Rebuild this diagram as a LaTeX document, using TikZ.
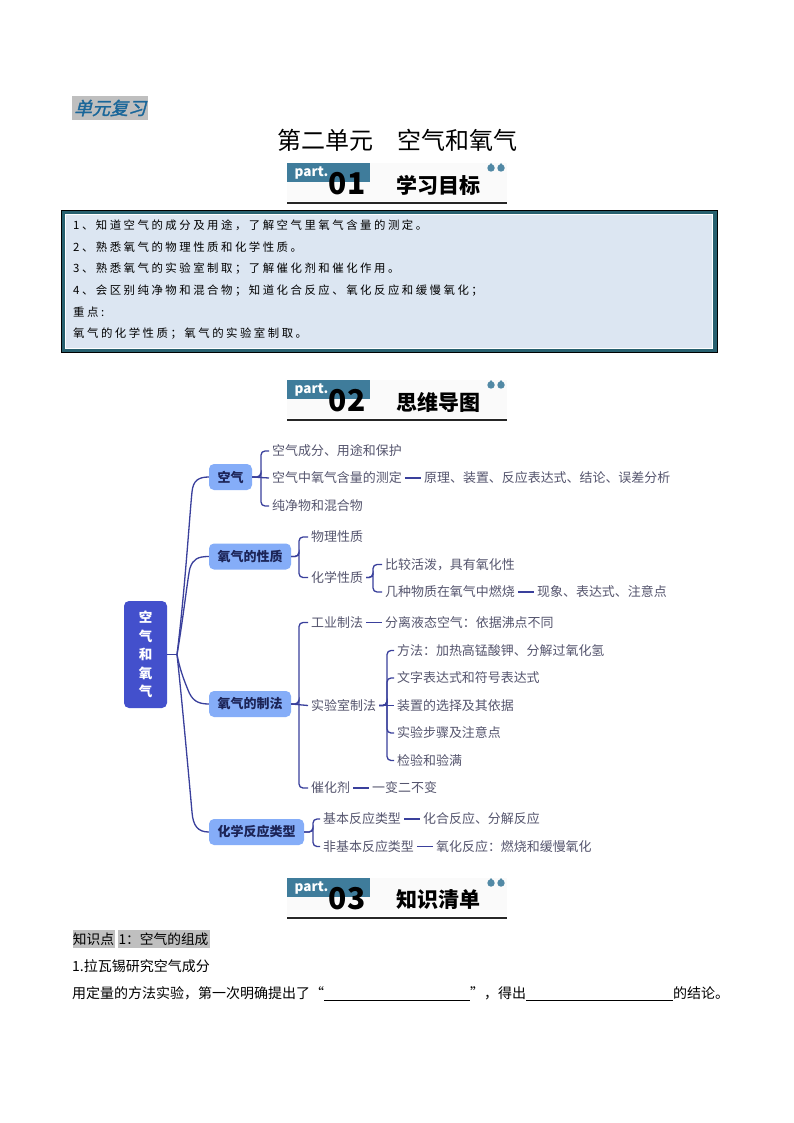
\documentclass[tikz,border=0pt]{standalone}
\usepackage{fontspec}
\setmainfont{Noto Sans CJK SC}
\newfontfamily\slantfont[FakeSlant=0.25,FakeBold=1.5]{Noto Sans CJK SC}
\newfontfamily\goalfont[LetterSpace=22]{Noto Sans CJK SC}
\newcommand{\fs}[1]{\fontsize{#1}{#1}\selectfont}
\definecolor{linkblue}{HTML}{3A409C}
\definecolor{rootblue}{HTML}{4350CC}
\definecolor{topicblue}{HTML}{85ADF8}
\definecolor{topicink}{HTML}{1C2457}
\definecolor{leafink}{HTML}{55556E}
\definecolor{bannerblue}{HTML}{3F7C9B}
\definecolor{goalframe}{HTML}{27606F}
\definecolor{goalfill}{HTML}{DCE6F2}
\definecolor{markgrey}{HTML}{BFBFBF}
\definecolor{reviewblue}{HTML}{1A6699}
\tikzset{
  topic/.style={draw=none,fill=topicblue,rounded corners=5pt,text=topicink,minimum height=26pt,font=\bfseries\fs{13}},
  leaf/.style={anchor=west,inner sep=3pt,text=leafink,font=\fs{12.95}},
  conn/.style={draw=linkblue,line width=1.3pt},
  bracket/.style={conn,rounded corners=4pt},
  goal/.style={anchor=west,inner sep=0pt,font=\goalfont\fs{11.4}},
  body/.style={anchor=west,inner sep=0pt,font=\fs{14}}
}
% one section banner: name, top edge, number, title
\newcommand{\partbanner}[4]{
\fill[black!2](287,#2) rectangle (507,#2+38);
\fill[bannerblue](287,#2) rectangle (370,#2+19);
\node[inner sep=0pt,text=white,font=\bfseries\fs{13.5}](#1p) at (311.5,#2+10) {part.};
\node[inner sep=0pt,font=\bfseries\fs{30}](#1n) at (347,#2+21) {#3};
\node[inner sep=0pt,font=\bfseries\fs{21}](#1t) at (438,#2+22) {#4};
\foreach \dropx in {491,501}{
  \fill[bannerblue!90](\dropx-3,#2+4)--(\dropx,#2)--(\dropx+3,#2+4)--cycle;
  \fill[bannerblue!90](\dropx,#2+5) circle (3.7);
}
\draw[line width=1.5pt,black!85](287,#2+40)--(507,#2+40);
}
\begin{document}
\begin{tikzpicture}[x=1pt,y=-1pt]
\useasboundingbox (0,0) rectangle (794,1123);
\fill[white](0,0) rectangle (794,1123);
% heading
\node[fill=markgrey,inner sep=0pt,minimum width=76pt,minimum height=24pt,text=reviewblue,font=\slantfont\fs{18}](review) at (110,108) {单元复习};
\node[inner sep=0pt,font=\fs{24}](title) at (397,140) {第二单元\hspace{24pt}空气和氧气};
\partbanner{a}{163}{01}{学习目标}
% goals box
\draw[black,line width=0.8pt,fill=goalframe](61.5,210.5) rectangle (717.5,352);
\fill[white](65,214.5) rectangle (712.5,348.5);
\fill[goalfill](66,215.5) rectangle (711.5,347.5);
\node[goal](g1) at (73,225) {1、知道空气的成分及用途，了解空气里氧气含量的测定。};
\node[goal](g2) at (73,247) {2、熟悉氧气的物理性质和化学性质。};
\node[goal](g3) at (73,269) {3、熟悉氧气的实验室制取；了解催化剂和催化作用。};
\node[goal](g4) at (73,291) {4、会区别纯净物和混合物；知道化合反应、氧化反应和缓慢氧化；};
\node[goal](g5) at (73,312) {重点:};
\node[goal](g6) at (73,334) {氧气的化学性质；氧气的实验室制取。};
\partbanner{b}{380}{02}{思维导图}
% mind map
\node[fill=rootblue,rounded corners=5pt,text=white,minimum width=43pt,minimum height=107pt,inner sep=0pt,align=center,font=\bfseries\fontsize{13.5}{18.5}\selectfont](root) at (145.5,654.5) {空\\气\\和\\氧\\气};
\node[topic,minimum width=43pt](air) at (230.5,477) {空气};
\node[topic,minimum width=82pt](prop) at (250,556.5) {氧气的性质};
\node[topic,minimum width=82pt](make) at (250,704) {氧气的制法};
\node[topic,minimum width=95pt](react) at (256.5,832) {化学反应类型};
\coordinate (hub) at (177,654.5);
\draw[conn](root.east)--(hub);
\draw[conn](hub) .. controls (185,590) and (190,510) .. (192,492) .. controls (193,481) and (198,477) .. (air.west);
\draw[conn](hub) .. controls (183,620) and (188,575) .. (190,568) .. controls (193,559) and (198,556.5) .. (prop.west);
\draw[conn](hub) .. controls (180,670) and (184,680) .. (188,690) .. controls (192,700) and (197,704) .. (make.west);
\draw[conn](hub) .. controls (182,700) and (190,790) .. (192,812) .. controls (193,826) and (198,832) .. (react.west);
% air
\node[leaf](air1) at (269,451) {空气成分、用途和保护};
\node[leaf](air2) at (269,478) {空气中氧气含量的测定};
\node[leaf](air3) at (269,506) {纯净物和混合物};
\node[leaf](air2a) at (421,478) {原理、装置、反应表达式、结论、误差分析};
\draw[bracket](air.east)-|(261,477)|-(air1.west);
\draw[bracket](air.east)-|(261,477)|-(air3.west);
\draw[conn](air.east)--(air2.west);
\draw[conn](air2.east)--(air2a.west);
% properties
\node[leaf](prop1) at (308,537) {物理性质};
\node[leaf](prop2) at (308,577.5) {化学性质};
\node[leaf](prop2a) at (382,564.5) {比较活泼，具有氧化性};
\node[leaf](prop2b) at (382,592) {几种物质在氧气中燃烧};
\node[leaf](prop2c) at (534,592) {现象、表达式、注意点};
\draw[bracket](prop.east)-|(299,556.5)|-(prop1.west);
\draw[bracket](prop.east)-|(299,556.5)|-(prop2.west);
\draw[bracket](prop2.east)-|(373,577.5)|-(prop2a.west);
\draw[bracket](prop2.east)-|(373,577.5)|-(prop2b.west);
\draw[conn](prop2b.east)--(prop2c.west);
% preparation
\node[leaf](make1) at (308,622.5) {工业制法};
\node[leaf](make1a) at (382,622.5) {分离液态空气：依据沸点不同};
\node[leaf](make2) at (308,705.5) {实验室制法};
\node[leaf](make3) at (308,788) {催化剂};
\node[leaf](make3a) at (369,788) {一变二不变};
\node[leaf](lab1) at (394,650.5) {方法：加热高锰酸钾、分解过氧化氢};
\node[leaf](lab2) at (394,678) {文字表达式和符号表达式};
\node[leaf](lab3) at (394,705.5) {装置的选择及其依据};
\node[leaf](lab4) at (394,733) {实验步骤及注意点};
\node[leaf](lab5) at (394,760.5) {检验和验满};
\draw[bracket](make.east)-|(299,704)|-(make1.west);
\draw[bracket](make.east)-|(299,704)|-(make3.west);
\draw[conn](make.east)--(make2.west);
\draw[conn](make1.east)--(make1a.west);
\draw[conn](make3.east)--(make3a.west);
\draw[bracket](make2.east)-|(387,705.5)|-(lab1.west);
\draw[bracket](make2.east)-|(387,705.5)|-(lab2.west);
\draw[bracket](make2.east)-|(387,705.5)|-(lab4.west);
\draw[bracket](make2.east)-|(387,705.5)|-(lab5.west);
\draw[conn](make2.east)--(lab3.west);
% reaction types
\node[leaf](react1) at (320,819) {基本反应类型};
\node[leaf](react2) at (320,846.5) {非基本反应类型};
\node[leaf](react1a) at (420,819) {化合反应、分解反应};
\node[leaf](react2a) at (433,846.5) {氧化反应：燃烧和缓慢氧化};
\draw[bracket](react.east)-|(313,832)|-(react1.west);
\draw[bracket](react.east)-|(313,832)|-(react2.west);
\draw[conn](react1.east)--(react1a.west);
\draw[conn](react2.east)--(react2a.west);
\partbanner{c}{878}{03}{知识清单}
% knowledge list
\node[fill=markgrey,inner sep=0pt,minimum width=42pt,minimum height=18pt,font=\fs{13.7}](k1) at (93.5,939) {知识点};
\node[fill=markgrey,inner sep=0pt,minimum width=92pt,minimum height=18pt,font=\fs{13.7}](k2) at (163.5,939) {1：空气的组成};
\node[body](k3) at (72,966.5) {1.拉瓦锡研究空气成分};
\node[body](k4) at (72,994) {用定量的方法实验，第一次明确提出了“\rule[-2pt]{146pt}{0.6pt}”，得出\rule[-2pt]{147pt}{0.6pt}的结论。};
\end{tikzpicture}
\end{document}
